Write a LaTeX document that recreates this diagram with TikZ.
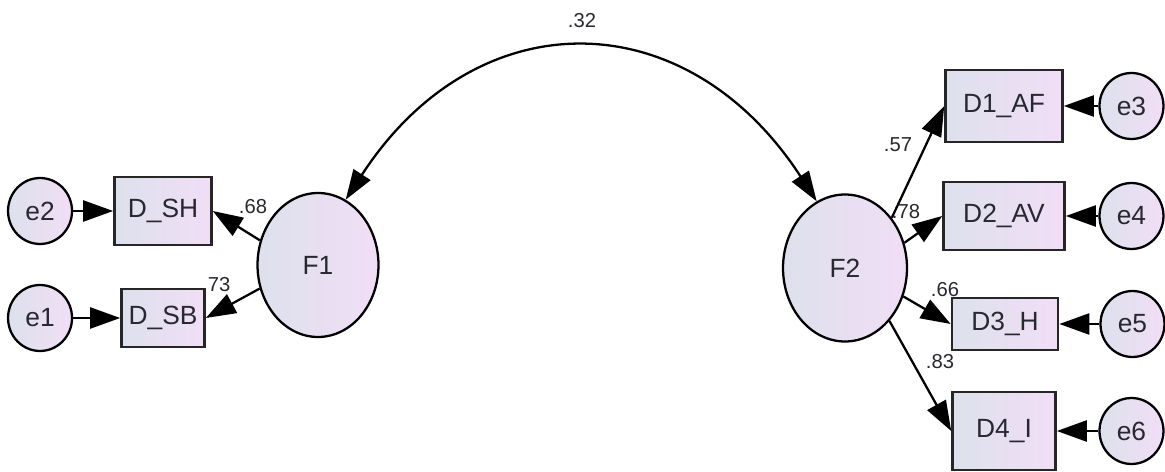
\documentclass[tikz,border=0pt]{standalone}
\usepackage{fontspec}
\setmainfont{Liberation Sans}
\usetikzlibrary{positioning,arrows.meta,shapes.geometric}
\definecolor{semlow}{RGB}{221,225,236}
\definecolor{semhigh}{RGB}{241,222,246}
\definecolor{semtext}{RGB}{40,40,48}
\tikzset{
  sem latent/.style={
    ellipse,
    draw=black,
    line width=1.3pt,
    left color=semlow,
    right color=semhigh,
    inner sep=0pt,
    text=semtext,
    font=\fontsize{15}{17}\selectfont
  },
  sem error/.style={
    sem latent,
    minimum width=1.28cm,
    minimum height=1.32cm
  },
  sem obs/.style={
    rectangle,
    draw=black!85,
    line width=1.5pt,
    left color=semlow,
    right color=semhigh,
    inner sep=0pt,
    text=semtext,
    font=\fontsize{15}{17}\selectfont
  },
  loading/.style={
    inner sep=0pt,
    text=semtext,
    font=\fontsize{11.5}{13}\selectfont
  },
  arrow/.style={
    -{Triangle[length=0.6cm,width=0.42cm]},
    line width=1.3pt
  },
  corr/.style={
    {Triangle[length=0.6cm,width=0.4cm]}-{Triangle[length=0.6cm,width=0.4cm]},
    line width=1.3pt
  }
}
\begin{document}
\begin{tikzpicture}[x=0.02cm, y=-0.02cm, node distance=2.55cm]
  \useasboundingbox (0,0) rectangle (1165,472);

  % Factors
  \node[sem latent, minimum width=2.42cm, minimum height=2.88cm] (f1) at (318,265) {F1};
  \node[sem latent, minimum width=2.48cm, minimum height=2.94cm] (f2) at (845,268) {F2};

  % Indicators of F1
  \node[sem obs, minimum width=1.94cm, minimum height=1.36cm] (dsh) at (163,211) {D\_SH};
  \node[sem obs, minimum width=1.66cm, minimum height=1.16cm] (dsb) at (163,318) {D\_SB};

  % Indicators of F2
  \node[sem obs, minimum width=2.34cm, minimum height=1.44cm] (d1) at (1004,106) {D1\_AF};
  \node[sem obs, minimum width=2.42cm, minimum height=1.36cm] (d2) at (1004,216) {D2\_AV};
  \node[sem obs, minimum width=2.12cm, minimum height=1.04cm] (d3) at (1005,324) {D3\_H};
  \node[sem obs, minimum width=2.06cm, minimum height=1.56cm] (d4) at (1004,431) {D4\_I};

  % Error terms
  \node[sem error, left of=dsh, node distance=2.46cm] (e2) {e2};
  \node[sem error, left of=dsb, node distance=2.46cm] (e1) {e1};
  \node[sem error, right of=d1] (e3) {e3};
  \node[sem error, right of=d2] (e4) {e4};
  \node[sem error, right of=d3] (e5) {e5};
  \node[sem error, right of=d4] (e6) {e6};

  % Errors to indicators
  \draw[arrow] (e2) -- (dsh);
  \draw[arrow] (e1) -- (dsb);
  \draw[arrow] (e3) -- (d1);
  \draw[arrow] (e4) -- (d2);
  \draw[arrow] (e5) -- (d3);
  \draw[arrow] (e6) -- (d4);

  % Loadings
  \draw[arrow] (f1.157) -- (dsh.east);
  \draw[arrow] (f1.202) -- (dsb.east);
  \draw[arrow] (f2.47) -- (d1.west);
  \draw[arrow] (f2.23) -- (d2.west);
  \draw[arrow] (f2.-26) -- (d3.west);
  \draw[arrow] (f2.-50) -- (d4.west);

  % Covariance
  \draw[corr] (f1.67) to[out=57, in=123, looseness=1.3] (f2.113);

  % Estimates
  \node[loading] (l32) at (582,21) {.32};
  \node[loading] (l68) at (253,207) {.68};
  \node[loading] (l73) at (219,285) {73};
  \node[loading] (l57) at (898,145) {.57};
  \node[loading] (l78) at (906,212) {.78};
  \node[loading] (l66) at (945,290) {.66};
  \node[loading] (l83) at (940,362) {.83};

\end{tikzpicture}
\end{document}
